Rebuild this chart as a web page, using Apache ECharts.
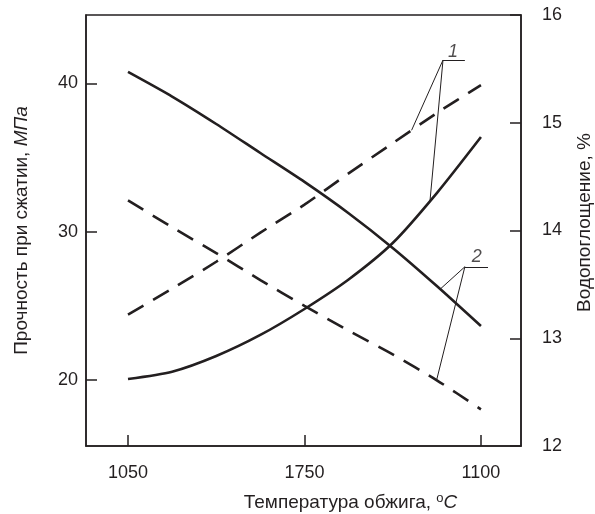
<!DOCTYPE html>
<html>
<head>
<meta charset="utf-8">
<script src="https://cdn.jsdelivr.net/npm/echarts@6/dist/echarts.min.js"></script>
<style>
  html, body { margin: 0; padding: 0; background: #fff; }
  #chart { width: 595px; height: 514px; }
</style>
</head>
<body>
<div id="chart"></div>
<script>
// Firing temperature positions (category index along the x axis) and their tick labels
const tempLabels = ['1050', '1750', '1100'];
const tempTicks = [0, 1, 2];
const xPos = [0, 0.25, 0.5, 0.75, 1, 1.25, 1.5, 1.75, 2];

// Compressive strength, MPa (left axis)
const strengthFalling = [40.78, 39.12, 37.27, 35.31, 33.36, 31.25, 28.91, 26.34, 23.64];
const strengthRising  = [20.07, 20.56, 21.62, 23.04, 24.79, 26.78, 29.24, 32.61, 36.39];

// Water absorption, % (right axis)
const absorptionRising  = [13.22, 13.46, 13.71, 13.98, 14.24, 14.53, 14.81, 15.09, 15.35];
const absorptionFalling = [14.28, 14.03, 13.79, 13.54, 13.30, 13.07, 12.85, 12.61, 12.34];

// Axis tick values
const strengthTicks = [20, 30, 40];

// Curve callouts: label positions and leader segments (left-axis units)
const calloutLabels = [
  { text: '1', at: [1.841, 42.15] },
  { text: '2', at: [1.976, 28.32] }
];
const leadersLeft = [
  [[1.785, 41.585], [1.909, 41.585]],
  [[1.785, 41.585], [1.711, 32.05]],
  [[1.909, 27.64], [2.040, 27.64]],
  [[1.909, 27.64], [1.768, 26.12]]
];
// Leader segments ending on the dashed curves (right-axis units)
const leadersRight = [
  [[1.785, 15.582], [1.607, 14.93]],
  [[1.909, 13.664], [1.749, 12.613]]
];

const ink = '#231f20';
const font = 'Liberation Sans, Arial, sans-serif';
const fs = 18;
const ts = 19;

const pair = (ys) => xPos.map((x, i) => [x, ys[i]]);

const chart = echarts.init(document.getElementById('chart'), null, { renderer: 'canvas' });

const curve = (name, ys, axis, dashed) => ({
  name, type: 'line', yAxisIndex: axis, data: pair(ys),
  smooth: 0.25, showSymbol: false, symbol: 'none',
  lineStyle: { color: ink, width: 2.6, type: dashed ? [18, 11] : 'solid', cap: 'butt' },
  z: 3
});

chart.setOption({
  animation: false,
  backgroundColor: '#fff',
  textStyle: { fontFamily: font, color: ink },
  grid: {
    left: 86, right: 74, top: 15, bottom: 68,
    outerBoundsMode: 'none', containLabel: false,
    show: true, borderColor: ink, borderWidth: 1.5, backgroundColor: 'transparent'
  },
  xAxis: {
    type: 'value', min: -0.238, max: 2.227,
    axisLine: { show: true, onZero: false, lineStyle: { color: ink, width: 1.5 } },
    axisTick: { show: true, inside: true, length: 11, customValues: tempTicks, lineStyle: { color: ink, width: 1.5 } },
    axisLabel: {
      customValues: tempTicks, margin: 18, fontSize: fs, color: ink, fontFamily: font,
      formatter: (v) => tempLabels[Math.round(v)]
    },
    splitLine: { show: false },
    name: 'Температура обжига, {sup|o}{i|C}',
    nameLocation: 'middle', nameGap: 46,
    nameTextStyle: {
      fontSize: ts, color: ink, fontFamily: font, padding: [0, 0, 0, 94],
      rich: {
        sup: { fontSize: 13, color: ink, fontFamily: font, verticalAlign: 'top', padding: [0, 0, 8, 0] },
        i: { fontSize: ts, color: ink, fontFamily: font, fontStyle: 'italic' }
      }
    }
  },
  yAxis: [
    {
      type: 'value', min: 15.55, max: 44.62, position: 'left',
      axisLine: { show: true, onZero: false, lineStyle: { color: ink, width: 1.5 } },
      axisTick: { show: true, inside: true, length: 11, customValues: strengthTicks, lineStyle: { color: ink, width: 1.5 } },
      axisLabel: { customValues: strengthTicks, margin: 8, fontSize: fs, color: ink, fontFamily: font },
      splitLine: { show: false },
      name: 'Прочность при сжатии, {i|МПа}',
      nameLocation: 'middle', nameGap: 55,
      nameTextStyle: {
        fontSize: ts, color: ink, fontFamily: font,
        rich: { i: { fontSize: ts, color: ink, fontFamily: font, fontStyle: 'italic' } }
      }
    },
    {
      type: 'value', min: 12, max: 16, interval: 1, position: 'right',
      axisLine: { show: true, onZero: false, lineStyle: { color: ink, width: 1.5 } },
      axisTick: { show: true, inside: true, length: 11, lineStyle: { color: ink, width: 1.5 } },
      axisLabel: { margin: 21, fontSize: fs, color: ink, fontFamily: font },
      splitLine: { show: false },
      name: 'Водопоглощение, %',
      nameLocation: 'middle', nameGap: 54,
      nameTextStyle: { fontSize: ts, color: ink, fontFamily: font, padding: [0, 0, 0, 16] }
    }
  ],
  series: [
    curve('strengthFalling', strengthFalling, 0, false),
    curve('strengthRising', strengthRising, 0, false),
    curve('absorptionRising', absorptionRising, 1, true),
    curve('absorptionFalling', absorptionFalling, 1, true),
    {
      type: 'lines', coordinateSystem: 'cartesian2d', yAxisIndex: 0, polyline: false,
      data: leadersLeft.map(c => ({ coords: c })),
      lineStyle: { color: ink, width: 1, opacity: 1 }, z: 4, silent: true
    },
    {
      type: 'lines', coordinateSystem: 'cartesian2d', yAxisIndex: 1, polyline: false,
      data: leadersRight.map(c => ({ coords: c })),
      lineStyle: { color: ink, width: 1, opacity: 1 }, z: 4, silent: true
    },
    {
      type: 'scatter', yAxisIndex: 0, symbolSize: 0, silent: true,
      data: calloutLabels.map(c => ({ value: c.at, name: c.text })),
      label: {
        show: true, position: 'inside', formatter: (p) => p.name,
        fontSize: fs, fontStyle: 'italic', color: ink, fontFamily: font
      }
    }
  ]
});
</script>
</body>
</html>
